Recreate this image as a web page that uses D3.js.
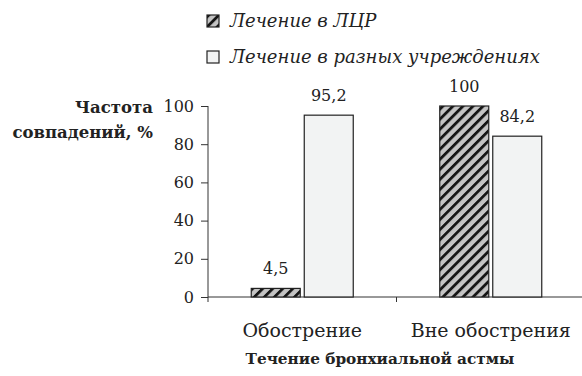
<!DOCTYPE html>
<html>
<head>
<meta charset="utf-8">
<script src="https://cdn.jsdelivr.net/npm/d3@7"></script>
<style>
  html, body { margin: 0; padding: 0; background: #fff; }
  svg { display: block; }
  text { fill: #222; }
</style>
</head>
<body>
<svg id="chart" width="582" height="376"></svg>
<script>
// Chart data
const categories = ["Обострение", "Вне обострения"];
const seriesNames = ["Лечение в ЛЦР", "Лечение в разных учреждениях"];
const valuesLCR = [4.5, 100];
const valuesOther = [95.2, 84.2];
const yTicks = [0, 20, 40, 60, 80, 100];
const yTitle = ["Частота", "совпадений, %"];
const xTitle = "Течение бронхиальной астмы";

const rows = categories.map((c, i) => ({
  category: c,
  values: [
    { key: seriesNames[0], value: valuesLCR[i] },
    { key: seriesNames[1], value: valuesOther[i] }
  ]
}));

const svg = d3.select("#chart");
const serif = "'DejaVu Serif', serif";
const fmt = v => String(v).replace(".", ",");

// Striped pattern for the first series
const defs = svg.append("defs");
const P = 7.1;
const pat = defs.append("pattern")
  .attr("id", "hatch")
  .attr("patternUnits", "userSpaceOnUse")
  .attr("width", P).attr("height", P)
  .attr("patternTransform", "rotate(45)");
pat.append("rect").attr("width", P).attr("height", P).attr("fill", "#c4c4c4");
pat.append("rect").attr("x", 0).attr("width", 2.8).attr("height", P).attr("fill", "#151515");

const fills = { [seriesNames[0]]: "url(#hatch)", [seriesNames[1]]: "#f2f3f3" };

// Scales
const x0 = d3.scaleBand().domain(categories).range([208, 585]).padding(0);
const bw = x0.bandwidth();
const x1 = d3.scaleBand().domain(seriesNames)
  .range([bw / 2 - 51, bw / 2 + 51]).paddingInner(4 / 53).paddingOuter(0);
const y = d3.scaleLinear().domain([0, 100]).range([297, 106]);

// Y axis
const yAxis = svg.append("g").attr("transform", "translate(208,0)")
  .call(d3.axisLeft(y).tickValues(yTicks).tickSize(7).tickPadding(7).tickSizeOuter(0));
yAxis.select(".domain").remove();
yAxis.selectAll(".tick line").attr("stroke", "#333");
yAxis.selectAll(".tick text")
  .attr("font-family", serif).attr("font-size", 16).attr("fill", "#222");
svg.append("line")
  .attr("x1", 208).attr("x2", 208)
  .attr("y1", y(100)).attr("y2", y(0) + 5)
  .attr("stroke", "#333");

// X axis baseline and separator tick between groups
svg.append("line")
  .attr("x1", 208).attr("x2", 582)
  .attr("y1", y(0)).attr("y2", y(0))
  .attr("stroke", "#333");
svg.append("line")
  .attr("x1", x0(categories[1])).attr("x2", x0(categories[1]))
  .attr("y1", y(0)).attr("y2", y(0) + 5)
  .attr("stroke", "#333");

// Bars
const groups = svg.append("g").selectAll("g").data(rows).join("g")
  .attr("transform", d => `translate(${x0(d.category)},0)`);
groups.selectAll("rect").data(d => d.values).join("rect")
  .attr("x", d => x1(d.key))
  .attr("y", d => y(d.value))
  .attr("width", x1.bandwidth())
  .attr("height", d => y(0) - y(d.value))
  .attr("fill", d => fills[d.key])
  .attr("stroke", "#222")
  .attr("stroke-width", 1.2);

// Value labels
groups.selectAll("text.val").data(d => d.values).join("text")
  .attr("class", "val")
  .attr("x", d => x1(d.key) + x1.bandwidth() / 2)
  .attr("y", d => y(d.value) - 20)
  .attr("dy", "0.35em")
  .attr("text-anchor", "middle")
  .attr("font-family", serif).attr("font-size", 16)
  .text(d => fmt(d.value));

// Category labels
svg.append("g").selectAll("text").data(categories).join("text")
  .attr("x", d => x0(d) + bw / 2)
  .attr("y", 337)
  .attr("text-anchor", "middle")
  .attr("font-family", serif).attr("font-size", 19)
  .text(d => d);

// Axis titles
svg.append("text")
  .attr("x", 380).attr("y", 364)
  .attr("text-anchor", "middle")
  .attr("font-family", serif).attr("font-size", 15.3).attr("font-weight", "bold")
  .text(xTitle);
svg.append("g").selectAll("text").data(yTitle).join("text")
  .attr("x", 153)
  .attr("y", (d, i) => 113 + i * 25)
  .attr("text-anchor", "end")
  .attr("font-family", serif).attr("font-size", 16.5).attr("font-weight", "bold")
  .text(d => d);

// Legend
const legend = svg.append("g").selectAll("g").data(seriesNames).join("g")
  .attr("transform", (d, i) => `translate(207,${15 + i * 36})`);
legend.append("rect")
  .attr("width", 12).attr("height", 12)
  .attr("fill", d => fills[d])
  .attr("stroke", "#222").attr("stroke-width", 1.2);
legend.append("text")
  .attr("x", 23).attr("y", 12)
  .attr("font-family", serif).attr("font-style", "italic").attr("font-size", 18)
  .text(d => d);
</script>
</body>
</html>
